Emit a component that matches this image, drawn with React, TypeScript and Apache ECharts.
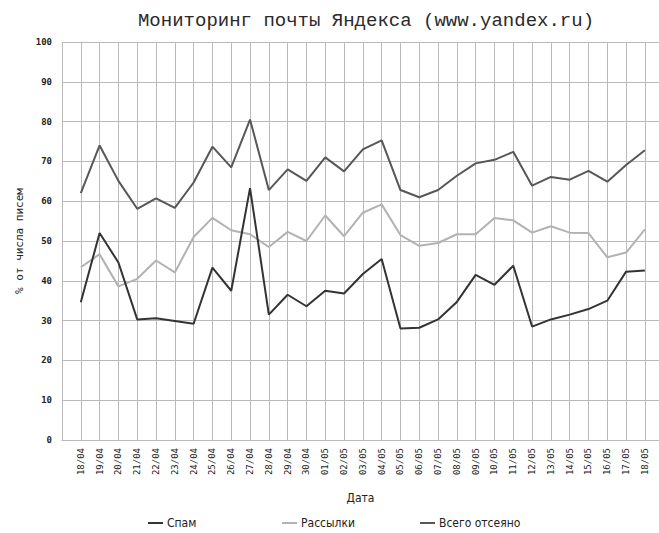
import React, { useEffect, useRef } from "react";
import * as echarts from "echarts";

const categories = [
  "18/04", "19/04", "20/04", "21/04", "22/04", "23/04", "24/04", "25/04", "26/04", "27/04",
  "28/04", "29/04", "30/04", "01/05", "02/05", "03/05", "04/05", "05/05", "06/05", "07/05",
  "08/05", "09/05", "10/05", "11/05", "12/05", "13/05", "14/05", "15/05", "16/05", "17/05", "18/05",
];

const spam = [
  34.6, 52.0, 44.6, 30.3, 30.6, 29.9, 29.2, 43.3, 37.5, 63.3, 31.5, 36.5, 33.6,
  37.5, 36.8, 41.7, 45.5, 28.0, 28.2, 30.3, 34.7, 41.5, 39.0, 43.8, 28.5, 30.3, 31.5, 32.9, 35.0, 42.3, 42.6,
];

const mailings = [
  43.4, 46.7, 38.6, 40.5, 45.1, 42.1, 51.0, 55.8, 52.7, 51.7, 48.5, 52.3, 50.0,
  56.4, 51.2, 57.1, 59.2, 51.5, 48.8, 49.5, 51.7, 51.7, 55.8, 55.2, 52.1, 53.7, 52.1, 52.0, 45.9, 47.1, 52.9,
];

const total = [
  62.0, 74.0, 65.1, 58.1, 60.7, 58.3, 64.7, 73.7, 68.5, 80.5, 62.8, 68.0, 65.1,
  71.0, 67.5, 73.0, 75.3, 62.8, 61.0, 62.8, 66.4, 69.5, 70.4, 72.4, 63.9, 66.1, 65.4, 67.6, 64.9, 69.1, 72.8,
];

const seriesNames = ["Спам", "Рассылки", "Всего отсеяно"];
const seriesColors = ["#333333", "#b2b2b2", "#575757"];
const yTicks = { min: 0, max: 100, interval: 10 };

const MONO = "'DejaVu Sans Mono', 'Liberation Mono', monospace";
const COND = "'DejaVu Sans Condensed', 'DejaVu Sans', sans-serif";
const GRID = "#bababa";

export default function App() {
  const ref = useRef<HTMLDivElement>(null);
  useEffect(() => {
    if (!ref.current) return;
    const chart = echarts.init(ref.current, null, { renderer: "svg" });
    const toPairs = (arr: number[]) => arr.map((v, i) => [i, v]);
    const all = [spam, mailings, total];
    const legendLefts = [143, 277, 415];
    chart.setOption({
      animation: false,
      backgroundColor: "#ffffff",
      title: {
        text: "Мониторинг почты Яндекса (www.yandex.ru)",
        left: 361,
        top: 6,
        textAlign: "center",
        textStyle: {
          fontFamily: "'Liberation Mono', monospace",
          fontSize: 19,
          fontWeight: "normal",
          color: "#2a2a2a",
        },
      },
      legend: seriesNames.map((n, i) => ({
        data: [n],
        left: legendLefts[i],
        top: 512,
        icon: "rect",
        itemWidth: 15,
        itemHeight: 2,
        itemGap: 4,
        textStyle: { fontFamily: COND, fontSize: 12, color: "#222", padding: [0, 0, 0, -1] },
      })),
      grid: { left: 62, right: -1, top: 42, bottom: 93, containLabel: false },
      xAxis: {
        type: "value",
        min: -1,
        max: 30.75,
        interval: 1,
        name: "Дата",
        nameLocation: "middle",
        nameGap: 52,
        nameTextStyle: { fontFamily: COND, fontSize: 12, color: "#222" },
        axisLine: { show: true, lineStyle: { color: GRID, width: 1 } },
        axisTick: { show: false },
        axisLabel: {
          rotate: 90,
          margin: 8,
          fontFamily: MONO,
          fontSize: 9,
          color: "#222",
          formatter: (v: number) =>
            Number.isInteger(v) && v >= 0 && v < categories.length ? categories[v] : "",
        },
        splitLine: { show: true, lineStyle: { color: GRID, width: 1 } },
      },
      yAxis: {
        type: "value",
        min: yTicks.min,
        max: yTicks.max,
        interval: yTicks.interval,
        name: "% от числа писем",
        nameLocation: "middle",
        nameGap: 33,
        nameTextStyle: { fontFamily: MONO, fontSize: 11, color: "#222" },
        axisLine: { show: true, lineStyle: { color: GRID, width: 1 } },
        axisTick: { show: false },
        axisLabel: {
          margin: 10,
          fontFamily: MONO,
          fontSize: 9,
          fontWeight: "bold",
          color: "#222",
        },
        splitLine: { show: true, lineStyle: { color: GRID, width: 1 } },
      },
      series: seriesNames.map((n, i) => ({
        name: n,
        type: "line",
        data: toPairs(all[i]),
        symbol: "none",
        color: seriesColors[i],
        lineStyle: { color: seriesColors[i], width: 2 },
        z: [4, 2, 3][i],
      })),
    });
    return () => chart.dispose();
  }, []);
  return (
    <div
      ref={ref}
      style={{ position: "fixed", left: 0, top: 0, width: 659, height: 533, background: "#fff" }}
    />
  );
}
